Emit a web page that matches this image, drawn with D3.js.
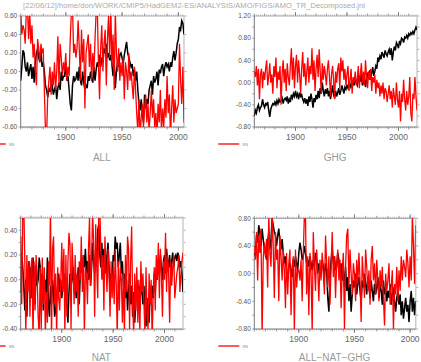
<!DOCTYPE html>
<html>
<head>
<meta charset="utf-8">
<script src="https://cdn.jsdelivr.net/npm/d3@7"></script>
<style>
  body { margin: 0; background: #fff; }
  text { font-family: "Liberation Sans", Arial, sans-serif; }
</style>
</head>
<body>
<svg width="421" height="362"></svg>
<script>
// данные: годовые значения
const startYear = 1860;

const allModel = [
  -0.10, 0.05, 0.23, 0.20, 0.05, 0.00, 0.10, -0.05, 0.02, 0.08,
  -0.08, 0.05, -0.12, 0.10, 0.20, 0.25, 0.15, 0.10, 0.22, 0.05,
  0.10, 0.00, -0.15, -0.20, -0.28, -0.18, -0.22, -0.10, -0.15, -0.25,
  -0.20, -0.15, -0.30, -0.18, -0.12, -0.20, 0.00, -0.10, -0.05, -0.05,
  0.10, -0.10, -0.05, -0.20, -0.35, -0.42, -0.15, -0.05, -0.10, -0.08,
  0.00, -0.10, 0.05, -0.10, -0.15, 0.00, -0.12, -0.20, -0.15, -0.18,
  -0.05, -0.10, 0.00, -0.08, -0.12, 0.05, -0.10, 0.02, 0.10, 0.05,
  0.18, 0.05, 0.15, 0.10, 0.25, 0.20, 0.30, 0.15, 0.20, 0.12,
  0.18, 0.08, -0.05, 0.10, -0.18, 0.00, 0.10, 0.05, 0.18, 0.20,
  0.15, 0.08, 0.18, 0.25, 0.32, 0.20, 0.15, 0.10, 0.05, 0.08,
  -0.05, 0.02, -0.10, 0.00, -0.20, -0.35, -0.42, -0.30, -0.45, -0.55,
  -0.25, -0.40, -0.30, -0.35, -0.20, -0.15, -0.10, -0.25, -0.05, -0.12,
  -0.08, 0.00, -0.15, 0.02, -0.02, 0.05, 0.08, -0.05, 0.05, 0.10,
  0.05, 0.08, 0.00, 0.10, 0.05, 0.15, 0.22, 0.12, 0.20, 0.30,
  0.35, 0.48, 0.45, 0.55, 0.52, 0.40
];
const allSN = [
  0.65, 0.40, 0.50, 0.45, 0.30, 0.65, 0.70, 0.35, 0.65, 0.30,
  0.50, 0.15, 0.30, 0.00, -0.15, 0.35, 0.25, 0.10, 0.30, 0.20,
  0.25, -0.20, -0.65, -0.70, -0.25, -0.10, 0.05, -0.25, 0.00, -0.15,
  0.10, -0.20, 0.00, 0.38, -0.15, 0.30, 0.15, -0.05, 0.10, 0.00,
  0.20, -0.10, 0.05, -0.05, 0.35, 0.65, 0.70, 0.20, 0.30, 0.15,
  0.25, 0.55, 0.25, -0.10, 0.45, 0.10, 0.35, -0.40, 0.20, 0.30,
  0.40, 0.05, 0.30, -0.10, 0.20, 0.00, 0.35, 0.65, 0.70, 0.10,
  -0.30, 0.25, 0.50, 0.00, 0.30, 0.45, -0.15, 0.35, 0.60, 0.15,
  0.70, 0.05, 0.40, -0.20, 0.65, 0.20, 0.00, 0.25, -0.10, 0.10,
  -0.05, 0.15, -0.30, 0.10, 0.00, -0.20, 0.20, -0.10, 0.00, -0.15,
  -0.30, 0.05, -0.20, -0.45, -0.65, -0.30, -0.70, -0.50, -0.35, -0.60,
  -0.40, -0.25, -0.55, -0.35, -0.65, -0.45, -0.20, -0.50, -0.30, -0.60,
  -0.45, -0.70, -0.35, -0.55, -0.20, -0.65, -0.40, -0.60, -0.30, -0.50,
  -0.05, -0.45, -0.25, -0.70, -0.40, -0.15, -0.55, -0.30, -0.45, -0.40,
  -0.35, 0.30, -0.10, -0.35, 0.05, -0.55
];

const ghgModel = [
  -0.60, -0.50, -0.55, -0.45, -0.40, -0.50, -0.45, -0.42, -0.30, -0.40,
  -0.45, -0.38, -0.40, -0.35, -0.50, -0.62, -0.48, -0.42, -0.38, -0.40,
  -0.35, -0.40, -0.32, -0.38, -0.30, -0.35, -0.33, -0.28, -0.38, -0.30,
  -0.28, -0.32, -0.25, -0.38, -0.30, -0.35, -0.22, -0.28, -0.20, -0.25,
  -0.15, -0.25, -0.20, -0.30, -0.18, -0.25, -0.22, -0.30, -0.35, -0.28,
  -0.38, -0.30, -0.42, -0.25, -0.35, -0.20, -0.30, -0.45, -0.28, -0.35,
  -0.22, -0.30, -0.15, -0.28, -0.10, -0.20, 0.00, -0.15, -0.25, -0.12,
  -0.20, -0.10, -0.25, -0.15, -0.30, -0.18, -0.05, -0.22, -0.28, -0.15,
  -0.25, -0.18, -0.10, -0.22, -0.15, -0.05, -0.12, -0.20, -0.08, -0.12,
  -0.05, -0.10, 0.00, -0.08, -0.02, -0.10, 0.05, -0.05, 0.10, 0.00,
  -0.05, 0.05, 0.12, 0.02, 0.15, -0.05, 0.00, 0.10, -0.08, 0.05,
  0.15, 0.10, 0.22, 0.05, 0.18, 0.28, 0.12, 0.20, 0.30, 0.25,
  0.45, 0.40, 0.48, 0.42, 0.55, 0.50, 0.45, 0.58, 0.52, 0.48,
  0.55, 0.60, 0.50, 0.62, 0.40, 0.55, 0.65, 0.58, 0.72, 0.68,
  0.62, 0.75, 0.70, 0.80, 0.78, 0.72, 0.82, 0.80, 0.85, 0.80,
  0.88, 0.85, 0.90, 0.87, 0.92, 0.88, 0.95, 1.00, 0.95
];
const ghgSN = [
  0.20, 0.10, 0.30, -0.05, 0.25, -0.30, 0.15, 0.25, -0.10, 0.20,
  0.05, 0.25, 0.40, -0.05, 0.10, 0.35, 0.00, 0.15, -0.20, 0.30,
  0.10, 0.45, -0.10, 0.20, 0.05, 0.30, -0.40, 0.15, 0.40, 0.00,
  0.25, -0.15, 0.35, 0.10, -0.05, 0.30, 0.62, 0.05, 0.45, -0.10,
  0.30, 0.50, 0.00, 0.40, 0.15, -0.20, 0.25, 0.55, 0.10, 0.35,
  -0.05, 0.20, 0.45, 0.00, 0.30, 0.15, 0.62, 0.05, 0.40, -0.15,
  0.25, 0.50, 0.10, 0.60, 0.20, -0.20, 0.35, 0.05, 0.30, 0.15,
  -0.05, 0.25, 0.40, 0.10, -0.25, 0.15, 0.30, 0.05, -0.30, 0.20,
  0.00, 0.25, 0.35, -0.10, 0.45, 0.20, 0.40, 0.05, 0.25, -0.05,
  0.15, 0.30, -0.15, 0.05, 0.25, -0.20, 0.10, 0.00, 0.20, -0.05,
  0.05, 0.30, -0.10, 0.15, 0.35, 0.00, 0.20, -0.05, 0.40, 0.10,
  -0.10, 0.20, 0.05, 0.25, -0.15, 0.10, 0.00, 0.15, -0.20, 0.05,
  -0.10, 0.00, -0.25, -0.05, -0.20, 0.00, -0.30, -0.10, -0.15, -0.35,
  -0.20, -0.05, -0.30, -0.15, -0.45, -0.10, -0.25, -0.40, 0.00, -0.30,
  -0.45, -0.15, -0.70, -0.20, -0.35, 0.05, -0.30, -0.50, -0.15, -0.40,
  -0.25, 0.10, -0.55, -0.70, -0.20, -0.30, 0.10, -0.25, -0.50
];

const natModel = [
  -0.10, 0.22, 0.10, -0.05, -0.25, 0.00, -0.30, 0.05, 0.15, -0.10,
  0.10, -0.15, 0.18, 0.05, -0.20, 0.12, -0.05, 0.00, 0.18, 0.10,
  -0.10, 0.05, -0.25, -0.05, 0.00, -0.15, 0.18, -0.20, -0.30, -0.05,
  -0.20, 0.00, -0.10, -0.30, -0.25, -0.15, -0.05, 0.05, -0.10, 0.00,
  -0.15, -0.05, 0.05, -0.10, 0.00, -0.20, -0.35, -0.10, 0.05, -0.05,
  0.00, 0.10, -0.10, 0.05, -0.15, -0.05, 0.10, -0.20, 0.05, 0.15,
  0.05, 0.20, 0.10, 0.25, 0.05, 0.15, 0.00, 0.20, -0.05, 0.10,
  0.30, 0.15, 0.05, 0.25, 0.10, 0.40, 0.45, 0.20, 0.10, 0.30,
  0.10, 0.25, 0.15, 0.05, 0.20, 0.30, 0.10, -0.10, 0.05, -0.05,
  0.20, 0.15, 0.35, 0.25, 0.30, 0.10, 0.20, 0.30, 0.05, 0.15,
  -0.05, 0.05, -0.15, 0.00, -0.25, -0.10, 0.05, -0.20, -0.05, -0.30,
  -0.10, -0.35, -0.20, 0.00, -0.15, -0.05, -0.25, 0.05, -0.10, -0.20,
  -0.05, -0.30, -0.38, -0.15, -0.25, -0.35, -0.10, -0.20, -0.05, -0.15,
  0.05, -0.10, 0.10, 0.00, 0.15, 0.05, 0.20, 0.10, 0.00, 0.15,
  0.20, 0.05, 0.25, 0.15, 0.10, 0.20, 0.05, 0.15, 0.22, 0.10,
  0.18, 0.20, 0.15, 0.22, 0.18, 0.10, 0.15, 0.05, -0.10
];
const natSN = [
  0.35, -0.20, 0.55, 0.60, 0.15, -0.45, 0.20, -0.10, 0.15, -0.30,
  0.10, 0.18, -0.50, 0.15, -0.25, 0.20, 0.05, -0.30, -0.45, 0.10,
  -0.40, 0.18, -0.20, 0.10, -0.45, -0.10, -0.35, 0.15, -0.05, 0.60,
  -0.50, 0.25, 0.35, -0.20, 0.05, -0.45, 0.10, -0.15, -0.25, 0.00,
  0.30, -0.10, 0.25, -0.45, 0.20, -0.30, 0.15, 0.38, 0.28, -0.40,
  0.30, 0.10, -0.20, 0.20, -0.10, 0.05, -0.30, 0.15, 0.00, 0.35,
  -0.10, 0.20, -0.45, 0.10, 0.05, -0.20, 0.25, 0.50, -0.05, 0.15,
  0.55, 0.30, -0.30, 0.45, 0.10, -0.15, 0.55, 0.60, 0.25, 0.00,
  0.20, -0.25, 0.35, 0.10, -0.10, 0.25, 0.05, -0.30, 0.15, -0.15,
  0.10, -0.20, 0.25, -0.05, -0.45, 0.15, -0.25, 0.10, 0.00, -0.35,
  0.05, -0.45, 0.20, -0.10, 0.35, 0.25, -0.40, 0.15, 0.43, -0.20,
  -0.45, 0.05, -0.25, 0.10, -0.35, 0.00, -0.45, 0.15, -0.10, 0.05,
  -0.20, -0.45, 0.10, -0.30, -0.40, 0.05, -0.20, 0.00, -0.50, -0.10,
  0.10, -0.25, 0.20, 0.00, 0.30, -0.15, 0.25, 0.05, -0.30, 0.15,
  0.00, 0.38, -0.10, 0.20, 0.05, -0.35, 0.15, -0.05, 0.10, 0.20,
  -0.15, -0.05, 0.05, 0.10, 0.20, -0.10, 0.05, 0.15, 0.22
];

const resModel = [
  0.30, 0.25, 0.55, 0.45, 0.70, 0.60, 0.40, 0.65, 0.50, 0.35,
  0.30, 0.20, 0.45, 0.60, 0.35, 0.50, 0.80, 0.70, 0.60, 0.55,
  0.40, 0.55, 0.65, 0.45, 0.35, 0.50, 0.30, 0.15, 0.25, 0.00,
  -0.10, 0.10, 0.15, 0.05, -0.05, 0.20, 0.10, 0.25, 0.15, 0.05,
  0.30, 0.45, 0.35, 0.20, 0.25, 0.40, 0.30, 0.15, 0.20, 0.10,
  0.25, 0.15, 0.05, 0.20, 0.10, 0.30, 0.20, 0.00, 0.15, 0.05,
  0.00, 0.20, 0.10, -0.05, 0.15, 0.05, -0.35, -0.55, -0.10, 0.20,
  0.35, 0.15, 0.25, 0.05, 0.10, 0.30, 0.20, 0.00, 0.15, -0.10,
  0.05, -0.20, 0.10, -0.25, -0.05, -0.40, -0.15, -0.55, -0.30, -0.10,
  -0.20, 0.00, -0.30, -0.15, -0.05, -0.25, -0.40, -0.10, -0.20, 0.00,
  -0.15, -0.30, -0.05, -0.20, -0.35, -0.10, -0.25, -0.40, -0.15, -0.30,
  -0.20, -0.05, -0.35, -0.15, -0.25, -0.45, -0.10, -0.30, -0.20, -0.40,
  -0.25, -0.35, -0.15, -0.45, -0.30, -0.20, -0.40, -0.55, -0.35, -0.25,
  -0.45, -0.30, -0.60, -0.40, -0.65, -0.50, -0.35, -0.55, -0.45, -0.70,
  -0.40, -0.25, -0.55, -0.35, -0.60, -0.40
];
const resSN = [
  0.40, 0.20, 0.60, -0.10, 0.55, 0.30, 0.65, -0.90, 0.20, 0.45,
  0.25, 0.50, -0.20, 0.85, 0.30, 0.10, 0.85, 0.40, -0.35, 0.60,
  0.20, 0.35, -0.40, 0.55, 0.25, -0.10, 0.35, 0.05, -0.50, 0.30,
  -0.30, 0.15, 0.35, -0.60, 0.10, 0.25, -0.85, 0.35, -0.20, 0.05,
  0.05, -0.10, 0.20, -0.40, 0.30, 0.85, 0.80, -0.30, 0.25, -0.60,
  0.30, 0.00, -0.85, 0.60, 0.10, -0.25, 0.35, 0.05, -0.40, 0.20,
  -0.10, 0.30, 0.00, -0.30, 0.55, 0.15, -0.20, 0.25, -0.45, 0.10,
  0.60, -0.05, 0.25, -0.35, 0.15, 0.35, -0.10, 0.20, -0.50, 0.05,
  0.30, -0.80, 0.10, 0.55, 0.65, -0.20, 0.35, 0.00, -0.30, 0.15,
  0.00, -0.40, 0.20, -0.15, 0.30, -0.10, -0.70, 0.25, -0.05, -0.35,
  0.35, 0.10, -0.25, 0.05, -0.45, 0.20, 0.40, -0.10, 0.15, -0.30,
  0.20, -0.10, -0.40, 0.05, -0.20, 0.10, -0.35, -0.75, 0.00, -0.25,
  -0.10, 0.15, -0.45, -0.20, 0.05, -0.80, -0.15, -0.30, 0.10, -0.40,
  0.05, -0.25, 0.25, -0.10, 0.20, 0.10, -0.05, 0.35, 0.15, -0.20,
  0.25, -0.10, 0.85, 0.40, -0.15, 0.70
];

const panelTitles = ["ALL", "GHG", "NAT", "ALL\u2212NAT\u2212GHG"];
const legendLabel = "SN";
const yearTicks = [1900, 1950, 2000];

const svg = d3.select("svg");

svg.append("text")
  .attr("x", 23).attr("y", 7.5)
  .attr("textLength", 342)
  .attr("font-size", 7.5)
  .attr("fill", "#aaa")
  .text("[22/06/12]/home/don/WORK/CMIP5/HadGEM2-ES/ANALYSIS/AMO/FIGS/AMO_TR_Decomposed.jnl");

const panels = [
  {box: [20.7, 16, 184, 127], years: [1860, 2005], y: [-0.6, 0.6], step: 0.2, minor: 0.2,
   model: allModel, sn: allSN, title: panelTitles[0]},
  {box: [254.3, 16, 417, 127], years: [1860, 2018], y: [-0.8, 1.2], step: 0.4, minor: 0.2,
   model: ghgModel, sn: ghgSN, title: panelTitles[1]},
  {box: [20.7, 218, 183, 329], years: [1860, 2018], y: [-0.4, 0.5], step: 0.2, minor: 0.1,
   model: natModel, sn: natSN, title: panelTitles[2]},
  {box: [254.3, 218.3, 415.7, 329], years: [1860, 2005], y: [-0.8, 0.8], step: 0.4, minor: 0.2,
   model: resModel, sn: resSN, title: panelTitles[3]}
];

const fmt = v => {
  const s = v.toFixed(2);
  return s === "-0.00" ? "0.00" : s;
};

panels.forEach((p, i) => {
  const [x0, y0, x1, y1] = p.box;
  const x = d3.scaleLinear().domain(p.years).range([x0, x1]);
  const y = d3.scaleLinear().domain(p.y).range([y1, y0]);
  const g = svg.append("g");

  // деления по X: мелкие каждые 2 года, средние 10, крупные 50
  const minorYears = d3.range(p.years[0], p.years[1] + 0.1, 2);
  const midYears = d3.range(1860, p.years[1] + 0.1, 10);
  const tickLines = [];
  minorYears.forEach(t => tickLines.push([t, 1.5, "#aaa"]));
  midYears.forEach(t => tickLines.push([t, 2.5, "#888"]));
  yearTicks.forEach(t => tickLines.push([t, 4, "#666"]));
  tickLines.forEach(([t, len, c]) => {
    g.append("line").attr("x1", x(t)).attr("x2", x(t))
      .attr("y1", y1).attr("y2", y1 + len).attr("stroke", c).attr("stroke-width", 0.8);
    g.append("line").attr("x1", x(t)).attr("x2", x(t))
      .attr("y1", y0).attr("y2", y0 - len).attr("stroke", c).attr("stroke-width", 0.8);
  });

  // деления по Y
  const yMinor = d3.range(p.y[0], p.y[1] + 1e-6, p.minor);
  yMinor.forEach(v => {
    g.append("line").attr("x1", x0 - 2).attr("x2", x0).attr("y1", y(v)).attr("y2", y(v))
      .attr("stroke", "#888").attr("stroke-width", 0.8);
    g.append("line").attr("x1", x1).attr("x2", x1 + 2.5).attr("y1", y(v)).attr("y2", y(v))
      .attr("stroke", "#999").attr("stroke-width", 0.8);
  });
  const yLabels = d3.range(p.y[0], p.y[1] + 1e-6, p.step);
  yLabels.forEach(v => {
    g.append("text").attr("x", x0 - 3.5).attr("y", y(v) + 2.2)
      .attr("text-anchor", "end").attr("font-size", 6.5).attr("fill", "#555")
      .text(fmt(v));
  });

  yearTicks.forEach(t => {
    g.append("text").attr("x", x(t)).attr("y", y1 + 13)
      .attr("text-anchor", "middle").attr("font-size", 8.5).attr("fill", "#666")
      .text(t);
  });

  // рамка
  g.append("line").attr("x1", x0).attr("x2", x1).attr("y1", y0).attr("y2", y0)
    .attr("stroke", "#aaa").attr("stroke-width", 1.2);
  g.append("line").attr("x1", x1).attr("x2", x1).attr("y1", y0).attr("y2", y1)
    .attr("stroke", "#ccc").attr("stroke-width", 1.5);
  g.append("line").attr("x1", x0).attr("x2", x0).attr("y1", y0).attr("y2", y1)
    .attr("stroke", "#777").attr("stroke-width", 1);
  g.append("line").attr("x1", x0).attr("x2", x1).attr("y1", y1).attr("y2", y1)
    .attr("stroke", "#777").attr("stroke-width", 1);

  const clipId = "clip" + i;
  svg.append("clipPath").attr("id", clipId)
    .append("rect").attr("x", x0).attr("y", y0).attr("width", x1 - x0).attr("height", y1 - y0);

  const line = d3.line()
    .x((d, k) => x(startYear + k))
    .y(d => y(d));

  g.append("path").attr("d", line(p.model))
    .attr("clip-path", `url(#${clipId})`)
    .attr("fill", "none").attr("stroke", "#000").attr("stroke-width", 1.5);
  g.append("path").attr("d", line(p.sn))
    .attr("clip-path", `url(#${clipId})`)
    .attr("fill", "none").attr("stroke", "#f00").attr("stroke-width", 1.3);

  // легенда и подпись панели
  const ly = y1 + 17;
  g.append("line").attr("x1", x0 - 36).attr("x2", x0 - 15).attr("y1", ly).attr("y2", ly)
    .attr("stroke", "#f00").attr("stroke-width", 1.3);
  g.append("text").attr("x", x0 - 12).attr("y", ly + 1.5)
    .attr("font-size", 4).attr("fill", "#888").text(legendLabel);

  g.append("text").attr("x", (x0 + x1) / 2 - 0.5).attr("y", Math.min(y1 + 33.5, 361))
    .attr("text-anchor", "middle").attr("font-size", 10).attr("fill", "#999")
    .text(p.title);
});
</script>
</body>
</html>
